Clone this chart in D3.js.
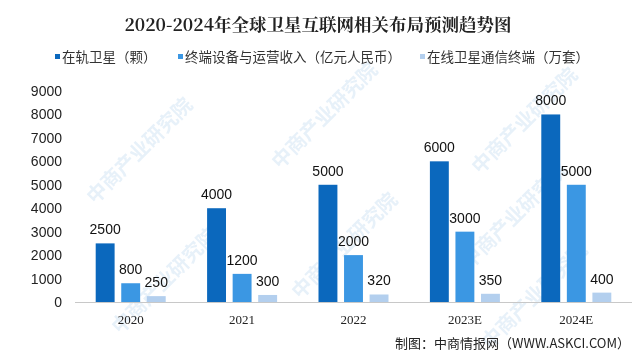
<!DOCTYPE html>
<html><head><meta charset="utf-8">
<script src="https://cdn.jsdelivr.net/npm/d3@7"></script>
<style>body{margin:0;background:#fff}svg{display:block}</style>
</head><body>
<svg id="c" width="640" height="361"></svg>
<script>
const categories = ["2020","2021","2022","2023E","2024E"];
const seriesNames = ["在轨卫星（颗）","终端设备与运营收入（亿元人民币）","在线卫星通信终端（万套）"];
const satellites = [2500,4000,5000,6000,8000];
const revenue = [800,1200,2000,3000,5000];
const terminals = [250,300,320,350,400];
const yTicks = [0,1000,2000,3000,4000,5000,6000,7000,8000,9000];
const title = "2020-2024年全球卫星互联网相关布局预测趋势图";
const source = "制图：中商情报网（WWW.ASKCI.COM）";

const colors = ["#0b68bd","#3b97e3","#b3cfee"];
const series = [satellites, revenue, terminals];
const svg = d3.select("#c");
const font = "'Noto Sans CJK SC', sans-serif";

// watermark (faint, inside the frame)
const wm = svg.append("g").attr("fill","#a9cbea").attr("opacity",0.28)
  .style("font-family",font).style("font-size","20px").style("font-weight","bold");
[[95,205],[280,170],[480,175],[120,335],[300,300],[470,270],[490,350]].forEach(p=>{
  wm.append("text").attr("transform",`translate(${p[0]},${p[1]}) rotate(-45)`).text("中商产业研究院");
});

const x = d3.scaleBand().domain(categories).range([75,632]);
const inner = d3.scaleBand().domain([0,1,2]).range([0, 70]).paddingInner(0.26);
const y = d3.scaleLinear().domain([0,9000]).range([302,91]);

svg.append("text").attr("x",318).attr("y",31).attr("text-anchor","middle")
  .style("font-family","'Noto Serif CJK SC','Noto Sans CJK SC',serif").style("font-weight","bold").style("font-size","17.5px").attr("fill","#222").text(title);

// legend
const legX = [55,178,420];
seriesNames.forEach((n,i)=>{
  svg.append("rect").attr("x",legX[i]).attr("y",54).attr("width",5).attr("height",5).attr("fill",colors[i]);
  svg.append("text").attr("x",legX[i]+7).attr("y",62).style("font-family",font).style("font-size","13.5px").attr("fill","#333").text(n);
});

// y axis labels
svg.append("g").selectAll("text").data(yTicks).join("text")
  .attr("x",62).attr("y",d=>y(d)+5).attr("text-anchor","end")
  .style("font-family","'Liberation Sans',Arial,sans-serif").style("font-size","14px").attr("fill","#222").text(d=>d);

// axis line
svg.append("line").attr("x1",75).attr("x2",632).attr("y1",302.5).attr("y2",302.5).attr("stroke","#c8c8c8");

// bars
series.forEach((vals,si)=>{
  const g = svg.append("g");
  g.selectAll("rect").data(vals).join("rect")
    .attr("x",(d,i)=>x(categories[i])+x.bandwidth()/2-35+inner(si))
    .attr("width",inner.bandwidth())
    .attr("y",d=>y(d)).attr("height",d=>y(0)-y(d)).attr("fill",colors[si]);
  g.selectAll("text").data(vals).join("text")
    .attr("x",(d,i)=>x(categories[i])+x.bandwidth()/2-35+inner(si)+inner.bandwidth()/2)
    .attr("y",d=>y(d)-9).attr("text-anchor","middle")
    .style("font-family","'Liberation Sans',Arial,sans-serif").style("font-size","14px").attr("fill","#111").text(d=>d);
});

// x labels
svg.append("g").selectAll("text").data(categories).join("text")
  .attr("x",d=>x(d)+x.bandwidth()/2).attr("y",324).attr("text-anchor","middle")
  .style("font-family","'Liberation Serif',serif").style("font-size","13px").attr("fill","#222").text(d=>d);

svg.append("text").attr("x",630).attr("y",348).attr("text-anchor","end")
  .style("font-family",font).style("font-size","13px").attr("fill","#222").text(source);
</script>
</body></html>
